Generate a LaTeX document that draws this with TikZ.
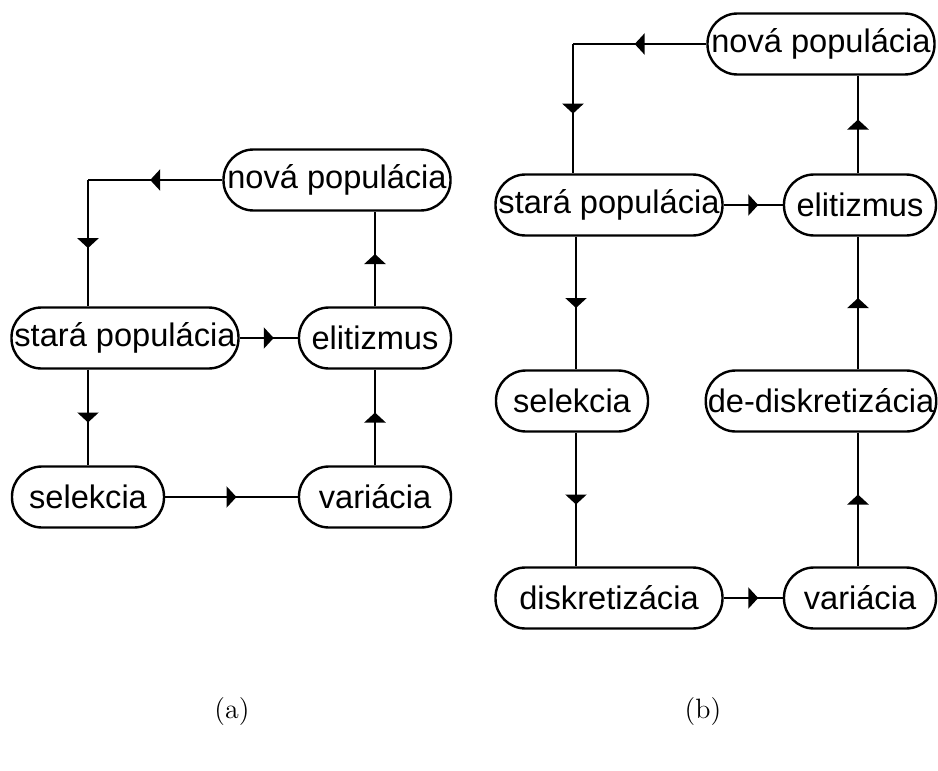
\documentclass[tikz,border=0pt]{standalone}
\usepackage{fontspec}
\setsansfont{Liberation Sans}
\usepackage{tikz}
\usetikzlibrary{arrows.meta,decorations.markings}

\begin{document}
\begin{tikzpicture}[x=0.5pt,y=-0.5pt,
  stage/.style={rectangle,draw,line width=1.2pt,rounded corners=15pt,
                minimum height=30.5pt,inner xsep=1pt,font=\sffamily\fontsize{16.3}{18}\selectfont},
  widebox/.style={stage,minimum width=113.5pt},
  shortbox/.style={stage,minimum width=76pt},
  flow/.style={line width=1.2pt,postaction={decorate},
    decoration={markings,mark=at position .5 with
      {\arrow[xshift=2.5pt]{Triangle[length=5pt,width=10.5pt]}}}}]

\useasboundingbox (0,0) rectangle (938,771);

% (a)
\node[widebox] (anova) at (337,180) {nová populácia};
\node[widebox] (astara) at (125,338) {stará populácia};
\node[shortbox] (aelit) at (375,338) {elitizmus};
\node[shortbox] (asel) at (88,497) {selekcia};
\node[shortbox] (avar) at (375,497) {variácia};
\coordinate (acorner) at (88,180);

\draw[flow] (anova.west)--(acorner);
\draw[flow] (acorner)--(astara.north -| acorner);
\draw[flow] (astara.east)--(aelit.west);
\draw[flow] (astara.south -| asel.north)--(asel.north);
\draw[flow] (asel.east)--(avar.west);
\draw[flow] (avar.north)--(aelit.south);
\draw[flow] (aelit.north)--(anova.south -| aelit.north);

% (b)
\node[widebox] (bnova) at (821,44) {nová populácia};
\node[widebox] (bstara) at (609,205) {stará populácia};
\node[shortbox] (belit) at (860,205) {elitizmus};
\node[shortbox] (bsel) at (572,401) {selekcia};
\node[widebox] (bdedisk) at (821,401) {de-diskretizácia};
\node[widebox] (bdisk) at (609,598) {diskretizácia};
\node[shortbox] (bvar) at (860,598) {variácia};
\coordinate (bcorner) at (573,44);
\coordinate (bleft) at (576,0);
\coordinate (bright) at (858,0);

\draw[flow] (bnova.west)--(bcorner);
\draw[flow] (bcorner)--(bstara.north -| bcorner);
\draw[flow] (bstara.east)--(belit.west);
\draw[flow] (bstara.south -| bleft)--(bsel.north -| bleft);
\draw[flow] (bsel.south -| bleft)--(bdisk.north -| bleft);
\draw[flow] (bdisk.east)--(bvar.west);
\draw[flow] (bvar.north -| bright)--(bdedisk.south -| bright);
\draw[flow] (bdedisk.north -| bright)--(belit.south -| bright);
\draw[flow] (belit.north -| bright)--(bnova.south -| bright);

\node[font=\fontsize{14}{16}\selectfont] (capa) at (232,712) {(a)};
\node[font=\fontsize{14}{16}\selectfont] (capb) at (703,712) {(b)};
\end{tikzpicture}
\end{document}
